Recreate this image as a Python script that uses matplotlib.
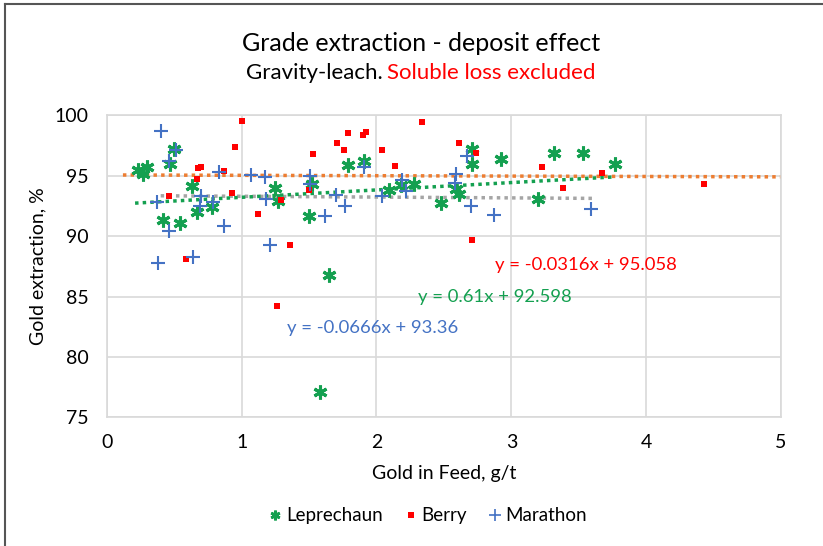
import matplotlib.pyplot as plt
from matplotlib.lines import Line2D

plt.rcParams['font.family'] = ['Lato', 'DejaVu Sans']

# Leprechaun
lep_x = [0.50, 0.47, 0.23, 0.30, 0.27, 0.63, 1.25, 1.27, 0.67, 0.78, 0.42, 0.54,
         1.50, 1.52, 1.65, 1.79, 1.91, 2.09, 2.18, 2.28, 2.48, 2.59, 2.61, 2.71,
         2.71, 2.92, 3.20, 3.32, 3.53, 3.77, 1.58]
lep_y = [97.2, 96.0, 95.5, 95.7, 95.1, 94.15, 94.0, 92.9, 92.0, 92.4, 91.3, 91.1,
         91.7, 94.3, 86.8, 95.9, 96.2, 93.8, 94.2, 94.3, 92.7, 93.9, 93.5, 97.2,
         96.0, 96.4, 93.1, 96.9, 96.9, 96.0, 77.1]

# Berry
ber_x = [1.00, 0.95, 0.68, 0.70, 0.87, 0.67, 0.46, 0.93, 1.12, 1.29, 1.36, 0.59,
         1.53, 1.71, 1.79, 1.76, 1.50, 1.26, 1.90, 1.92, 2.04, 2.34, 2.14, 2.61,
         2.74, 2.71, 3.23, 3.38, 3.67, 4.43]
ber_y = [99.5, 97.4, 95.6, 95.7, 95.4, 94.7, 93.3, 93.6, 91.8, 93.0, 89.3, 88.1,
         96.8, 97.7, 98.55, 97.1, 93.8, 84.2, 98.4, 98.6, 97.1, 99.4, 95.8, 97.7,
         96.9, 89.7, 95.7, 94.0, 95.25, 94.3]

# Marathon
mar_x = [0.40, 0.515, 0.46, 0.83, 1.07, 1.17, 1.51, 1.51, 0.70, 0.37, 0.79, 0.69,
         1.18, 1.70, 1.77, 1.62, 0.46, 0.87, 1.21, 0.38, 0.64, 1.91, 2.04, 2.19,
         2.22, 2.59, 2.58, 2.67, 2.70, 2.87, 3.59]
mar_y = [98.7, 97.1, 96.2, 95.3, 95.06, 94.9, 95.0, 94.3, 93.3, 92.85, 92.8, 92.5,
         93.1, 93.4, 92.5, 91.7, 90.45, 90.8, 89.3, 87.8, 88.3, 95.7, 93.3, 94.65,
         93.7, 95.1, 94.4, 96.6, 92.5, 91.75, 92.2]

# trendlines (slope, intercept, x range)
lep_fit = (0.61, 92.598, 0.21, 3.75)
ber_fit = (-0.0316, 95.058, 0.12, 5.0)
mar_fit = (-0.0666, 93.36, 0.40, 3.6)

GREEN = '#14A050'
RED = '#FF0000'
BLUE = '#4472C4'

fig = plt.figure(figsize=(8.23, 5.46), dpi=100)
ax = fig.add_axes([0.1297, 0.2355, 0.8193, 0.5535])

ax.set_xlim(0, 5)
ax.set_ylim(75, 100)
ax.set_xticks([0, 1, 2, 3, 4, 5])
ax.set_yticks([75, 80, 85, 90, 95, 100])
ax.grid(color='#D9D9D9', linewidth=1.2)
ax.set_axisbelow(True)
for s in ax.spines.values():
    s.set_color('#D9D9D9')
    s.set_linewidth(1.2)
ax.tick_params(length=0, labelsize=14)
ax.tick_params(axis='y', pad=13)
ax.tick_params(axis='x', pad=12)

# trendlines
for (m, b, x0, x1), c in [(ber_fit, '#ED7D31'), (mar_fit, '#A5A5A5'), (lep_fit, GREEN)]:
    ax.plot([x0, x1], [m * x0 + b, m * x1 + b], color=c, linestyle=(0, (1, 1.2)),
            linewidth=2.5, zorder=2)

ax.plot(lep_x, lep_y, linestyle='none', marker=(6, 2, 0), markersize=10,
        markeredgewidth=2.2, color=GREEN, zorder=3)
ax.plot(ber_x, ber_y, linestyle='none', marker='s', markersize=5,
        color=RED, markeredgewidth=0, zorder=3)
ax.plot(mar_x, mar_y, linestyle='none', marker='+', markersize=10,
        markeredgewidth=1.5, color=BLUE, zorder=3)

ax.text(3.55, 87.6, 'y = -0.0316x + 95.058', color=RED, fontsize=13.3, ha='center', va='center')
ax.text(2.88, 85.0, 'y = 0.61x + 92.598', color=GREEN, fontsize=13.3, ha='center', va='center')
ax.text(1.97, 82.4, 'y = -0.0666x + 93.36', color=BLUE, fontsize=13.3, ha='center', va='center')

ax.set_xlabel('Gold in Feed, g/t', fontsize=14, labelpad=10)
ax.set_ylabel('Gold extraction, %', fontsize=14, labelpad=6)

fig.text(0.512, 0.921, 'Grade extraction - deposit effect', fontsize=18, ha='center', va='center')
fig.text(0.4655, 0.866, 'Gravity-leach.', fontsize=16, ha='right', va='center')
fig.text(0.4705, 0.866, 'Soluble loss excluded', fontsize=16, ha='left', va='center', color=RED)

handles = [
    Line2D([], [], linestyle='none', marker=(6, 2, 0), markersize=7, markeredgewidth=2, color=GREEN),
    Line2D([], [], linestyle='none', marker='s', markersize=4.5, markeredgewidth=0, color=RED),
    Line2D([], [], linestyle='none', marker='+', markersize=8, markeredgewidth=1.2, color=BLUE),
]
fig.legend(handles, ['Leprechaun', 'Berry', 'Marathon'], loc='center', bbox_to_anchor=(0.518, 0.055),
           ncol=3, frameon=False, fontsize=13.5, handletextpad=0.05, columnspacing=1.0,
           handlelength=1.0)

# outer chart border (top and left visible)
fig.add_artist(Line2D([0.006, 1.0], [0.992, 0.992], color='#555555', linewidth=1.5,
                      transform=fig.transFigure))
fig.add_artist(Line2D([0.006, 0.006], [0.0, 0.992], color='#555555', linewidth=1.5,
                      transform=fig.transFigure))

fig.savefig('out.png', dpi=100)
